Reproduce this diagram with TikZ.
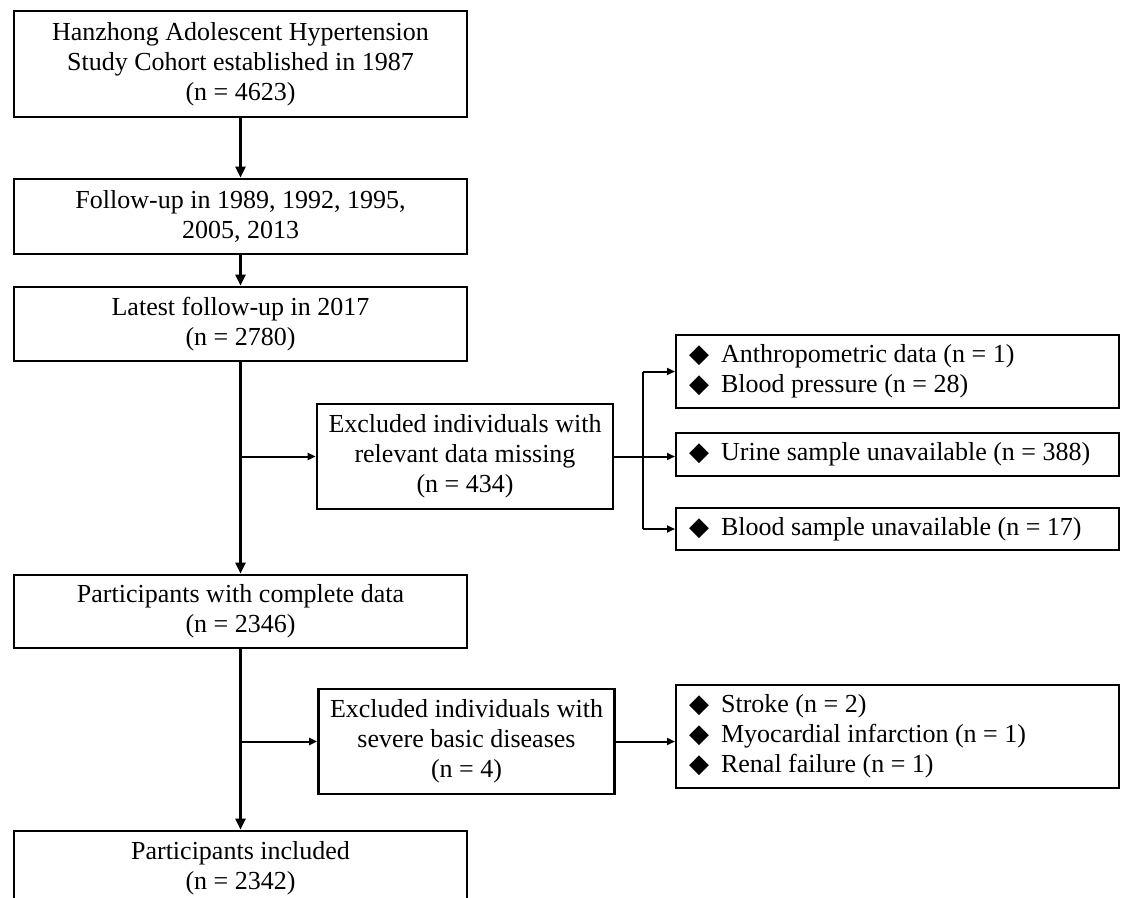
\documentclass[tikz,border=0pt]{standalone}
\usepackage{fontspec}
\setmainfont{Liberation Serif}
\newfontfamily\symfont{DejaVu Sans}
\usetikzlibrary{arrows.meta}

\newcommand{\itm}{{\symfont\char"25C6}\hspace{6pt}}

\begin{document}
\begin{tikzpicture}[x=0.5pt, y=-0.5pt,
    every node/.style={font=\fontsize{13}{15}\selectfont, inner sep=0pt},
    box/.style={draw, line width=1.4pt, minimum width=226.5pt, align=center},
    side/.style={draw, line width=1.4pt, minimum width=148pt, minimum height=52.5pt, align=center},
    list/.style={draw, line width=1.1pt, text width=208.5pt, inner xsep=6.5pt, align=flush left, anchor=west},
    main/.style={line width=1.7pt, -{Triangle[length=5.5pt, width=5pt]}},
    branch/.style={line width=1pt, -{Triangle[length=4pt, width=3.5pt]}},
    link/.style={line width=1pt}]

     \clip (0,0) rectangle (1123,898);
     \fill[white] (0,0) rectangle (1123,898);

     % Caja principal de la cohorte y seguimientos
     \node[box, minimum height=53pt] (cohort) at (240.5,64) {Hanzhong Adolescent Hypertension\\Study Cohort established in 1987\\(n = 4623)};
     \node[box, minimum height=37.5pt] (follow) at (240.5,216.5) {Follow-up in 1989, 1992, 1995,\\2005, 2013};
     \node[box, minimum height=37pt] (latest) at (240.5,324) {Latest follow-up in 2017\\(n = 2780)};
     \node[box, minimum height=36.5pt] (complete) at (240.5,611.5) {Participants with complete data\\(n = 2346)};
     \node[box, minimum height=37pt] (included) at (240.5,868) {Participants included\\(n = 2342)};

     % Cajas de exclusión
     \node[side] (missing) at (465,456.5) {Excluded individuals with\\relevant data missing\\(n = 434)};
     \node[side] (disease) at (466.5,741.5) {Excluded individuals with\\severe basic diseases\\(n = 4)};

     % Detalle de los excluidos
     \node[list, minimum height=36.5pt] (anthro) at (675,371.5) {\itm Anthropometric data (n = 1)\\\itm Blood pressure (n = 28)};
     \node[list, minimum height=21.5pt] (urine) at (675,454.5) {\itm Urine sample unavailable (n = 388)};
     \node[list, minimum height=21pt] (blood) at (675,529) {\itm Blood sample unavailable (n = 17)};
     \node[list, minimum height=51.5pt] (illness) at (675,736.5) {\itm Stroke (n = 2)\\\itm Myocardial infarction (n = 1)\\\itm Renal failure (n = 1)};

     % Flechas verticales principales
     \draw[main] (cohort) -- (follow);
     \draw[main] (follow) -- (latest);
     \draw[main] (latest) -- (complete);
     \draw[main] (complete) -- (included);

     % Ramas hacia las exclusiones
     \draw[branch] (missing.west -| latest.south) -- (missing.west);
     \draw[branch] (disease.west -| complete.south) -- (disease.west);

     % Bifurcación de los datos faltantes
     \coordinate (fork) at (643,456.5);
     \draw[link] (missing.east) -- (fork);
     \draw[link] (fork |- anthro.west) -- (fork |- blood.west);
     \draw[branch] (fork |- anthro.west) -- (anthro.west);
     \draw[branch] (fork) -- (fork -| urine.west);
     \draw[branch] (fork |- blood.west) -- (blood.west);

     % Enfermedades graves
     \draw[branch] (disease.east) -- (disease.east -| illness.west);

   \end{tikzpicture}
\end{document}
